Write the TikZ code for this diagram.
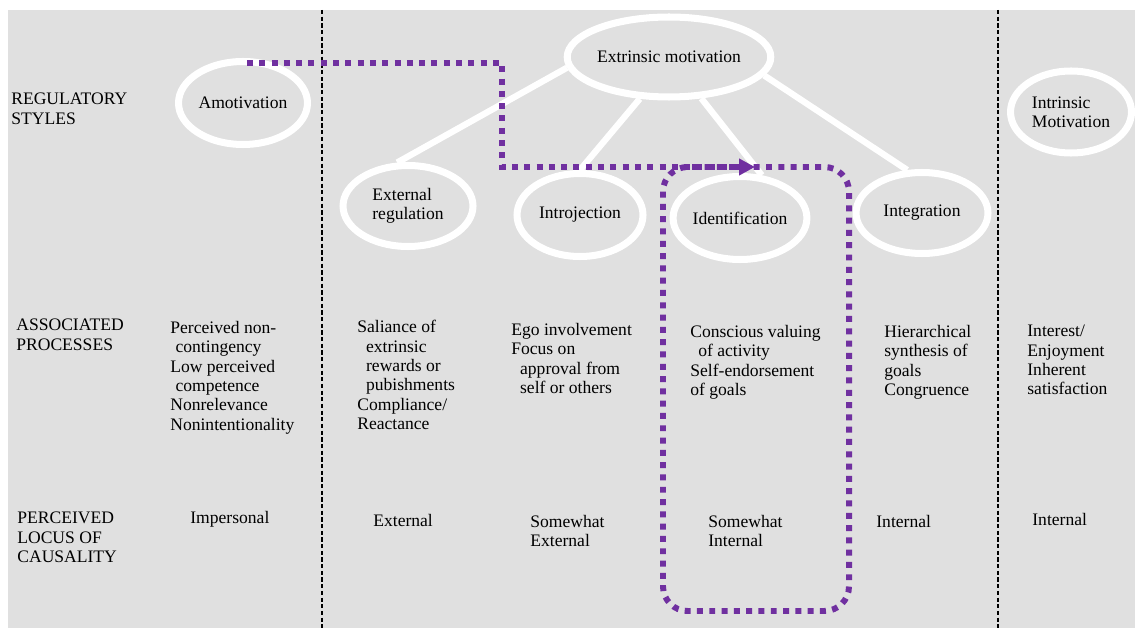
\documentclass[tikz,border=0pt]{standalone}
\usepackage{fontspec}
\setmainfont{Liberation Serif}
\usepackage{tikz}
\usetikzlibrary{shapes.geometric,arrows.meta,calc}
\definecolor{panelgray}{HTML}{E0E0E0}
\definecolor{routepurple}{HTML}{7030A0}

\begin{document}
\begin{tikzpicture}[x=0.02cm, y=-0.02cm,
    bubble/.style={ellipse, draw=white, line width=4pt, fill=panelgray, inner sep=0pt, align=left, font=\fontsize{10}{11}\selectfont},
    spoke/.style={draw=white, line width=3.6pt},
    divider/.style={black, line width=1pt, dash pattern=on 2.4pt off 1.4pt},
    route/.style={routepurple, line width=3.4pt, dash pattern=on 3.4pt off 3.6pt},
    cell/.style={anchor=north west, inner sep=0pt, align=left, font=\fontsize{10}{11}\selectfont}]

    % Panel
    \fill[white] (0,0) rectangle (1135,628);
    \fill[panelgray] (8,10) rectangle (1135,628);
    \useasboundingbox (0,0) rectangle (1135,628);

    % Column dividers
    \draw[divider] (322,10) -- (322,628);
    \draw[divider] (998,10) -- (998,628);

    % Row headings
    \node[cell] (hstyles) at (11,93) {REGULATORY\\STYLES};
    \node[cell] (hproc) at (16,319) {ASSOCIATED\\PROCESSES};
    \node[cell] (hlocus) at (17,512) {PERCEIVED\\LOCUS OF\\CAUSALITY};

    % Regulatory styles
    \node[bubble, minimum width=2.58cm, minimum height=1.66cm] (amot) at (243,103) {Amotivation};
    \node[bubble, minimum width=3.62cm, minimum height=1.60cm] (extr) at (669,57) {Extrinsic motivation};
    \node[bubble, minimum width=2.60cm, minimum height=1.62cm] (ext) at (408,206) {External\\regulation};
    \node[bubble, minimum width=2.52cm, minimum height=1.66cm] (intro) at (580,215) {Introjection};
    \node[bubble, minimum width=2.56cm, minimum height=1.66cm] (ident) at (740,218) {Identification};
    \node[bubble, minimum width=2.64cm, minimum height=1.62cm] (integ) at (922,213) {Integration};
    \node[bubble, minimum width=2.42cm, minimum height=1.64cm] (intr) at (1071,112) {Intrinsic\\Motivation};

    % Spokes
    \draw[spoke] (extr.186) -- (ext.104);
    \draw[spoke] (extr.235) -- (intro.90);
    \draw[spoke] (extr.308) -- (ident.63);
    \draw[spoke] (extr.349) -- (integ.109);

    % Associated processes
    \node[cell] (pamot) at (170,321) {Perceived non-\\\hspace*{3pt}contingency\\Low perceived\\\hspace*{3pt}competence\\Nonrelevance\\Nonintentionality};
    \node[cell] (pext) at (357,320) {Saliance of\\\hspace*{5pt}extrinsic\\\hspace*{5pt}rewards or\\\hspace*{5pt}pubishments\\Compliance/\\Reactance};
    \node[cell] (pintro) at (511,323) {Ego involvement\\Focus on\\\hspace*{5pt}approval from\\\hspace*{5pt}self or others};
    \node[cell] (pident) at (690,325) {Conscious valuing\\\hspace*{4.5pt}of activity\\Self-endorsement\\of goals};
    \node[cell] (pinteg) at (884,325) {Hierarchical\\synthesis of\\goals\\Congruence};
    \node[cell] (pintr) at (1027,325) {Interest/\\Enjoyment\\Inherent\\satisfaction};

    % Perceived locus of causality
    \node[cell] (lamot) at (190,511) {Impersonal};
    \node[cell] (lext) at (373,514) {External};
    \node[cell] (lintro) at (530,515) {Somewhat\\External};
    \node[cell] (lident) at (708,515) {Somewhat\\Internal};
    \node[cell] (linteg) at (876,515) {Internal};
    \node[cell] (lintr) at (1032,513) {Internal};

    % Highlighted route
    \coordinate (tip) at (755,167);
    \draw[route, -{Triangle[length=9pt, width=9pt]}] ($(amot.north)+(4,5)$) -- ++(255,0) |- (tip);
    \draw[route, rounded corners=14pt] (663,167) rectangle (849,611);
\end{tikzpicture}
\end{document}
